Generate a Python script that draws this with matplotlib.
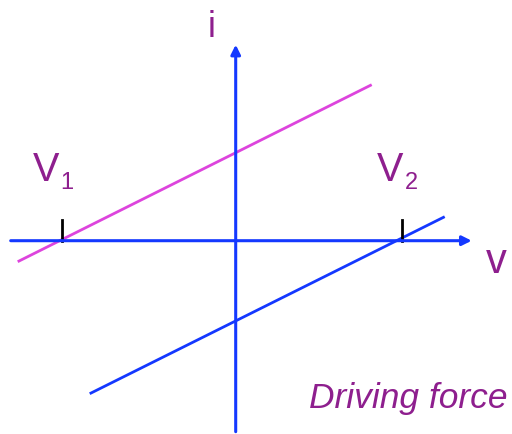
import matplotlib
matplotlib.use("Agg")
import matplotlib.pyplot as plt

# data (pixel-like units, origin at axis crossing, y up)
h_axis_x = [-225, 236]
v_axis_y = [-191, 196]
magenta_x = [-218, 136]
magenta_y = [-21, 156]
blue_x = [-146, 209]
blue_y = [-153, 24]
tick_x = [-174, 166]
tick_h = 21

BLUE = "#1438FF"
MAG = "#DD44DD"
PURP = "#8E1F8E"

fig = plt.figure(figsize=(5.12, 4.34), dpi=100)
ax = fig.add_axes([0, 0, 1, 1])
ax.set_xlim(-235.7, 276.3)
ax.set_ylim(-193.3, 240.7)
ax.axis("off")

# axes with arrows
ax.annotate("", xy=(h_axis_x[1], 0), xytext=(h_axis_x[0], 0),
            arrowprops=dict(arrowstyle="-|>", color=BLUE, lw=2.2,
                            mutation_scale=14, shrinkA=0, shrinkB=0))
ax.annotate("", xy=(0, v_axis_y[1]), xytext=(0, v_axis_y[0]),
            arrowprops=dict(arrowstyle="-|>", color=BLUE, lw=2.2,
                            mutation_scale=14, shrinkA=0, shrinkB=0))

ax.plot(magenta_x, magenta_y, color=MAG, lw=2.0, solid_capstyle="butt")
ax.plot(blue_x, blue_y, color=BLUE, lw=2.0, solid_capstyle="butt")

for tx in tick_x:
    ax.plot([tx, tx], [0, tick_h], color="black", lw=2.0)

fam = ["Liberation Sans", "DejaVu Sans"]
ax.text(-203, 60, "V", color=PURP, fontsize=28.5, family=fam, ha="left", va="baseline")
ax.text(-175, 52, "1", color=PURP, fontsize=17, family=fam, ha="left", va="baseline")
ax.text(141, 60, "V", color=PURP, fontsize=28.5, family=fam, ha="left", va="baseline")
ax.text(169, 52, "2", color=PURP, fontsize=17, family=fam, ha="left", va="baseline")
ax.text(-24, 204, "i", color=PURP, fontsize=26, family=fam, ha="center", va="baseline")
ax.text(261, -32, "v", color=PURP, fontsize=30, family=fam, ha="center", va="baseline")
ax.text(272, -167, "Driving force", color=PURP, fontsize=25.5, family=fam,
        style="italic", ha="right", va="baseline")

fig.savefig("out.png", dpi=100)
